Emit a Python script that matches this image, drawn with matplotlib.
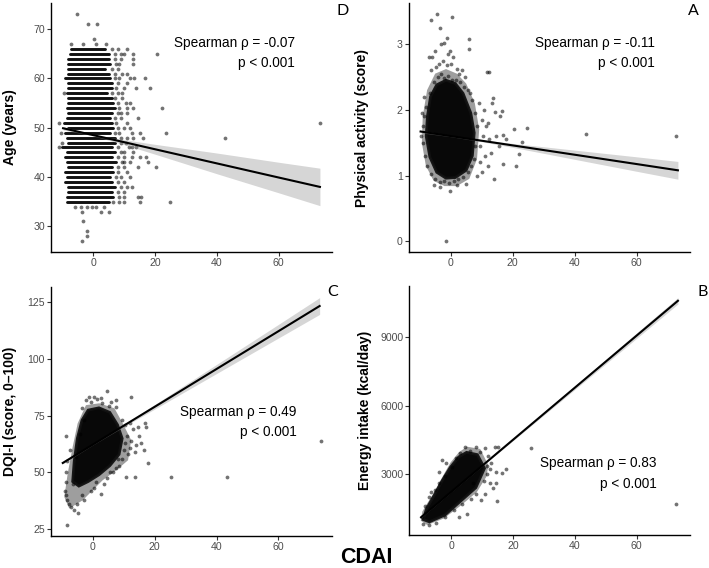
import matplotlib
matplotlib.use("Agg")
import matplotlib.pyplot as plt

plt.rcParams['font.family'] = ['Liberation Sans', 'DejaVu Sans']

# ---------------- common ----------------
x_ticks = [0, 20, 40, 60]
x_lim = (-13.6, 77.2)

# ---------------- Panel D : Age ----------------
d_row_age = [66, 65, 64, 63, 62, 61, 60, 59, 58, 57, 56, 55, 54, 53, 52, 51,
             50, 49, 48, 47, 46, 45, 44, 43, 42, 41, 40, 39, 38, 37, 36, 35]
d_row_lo = [-7, -7.5, -8, -8, -8, -8, -9, -8, -8, -8.5, -8, -8, -8.5, -8, -8.5, -9.5,
            -8, -9, -8.5, -8, -10, -8.5, -9, -8.5, -8, -9, -8.5, -9, -8, -8, -8.5, -8.5]
d_row_hi = [4, 5, 5, 5.5, 4, 5, 5.5, 6, 6, 4.5, 6, 6.5, 7, 6, 5.5, 6,
            6.5, 5.5, 7, 7, 6, 7, 6, 7.5, 6, 6.5, 5.5, 6, 7, 6, 6.5, 5]
d_pts_x = [6, 8, 11, 7, 9, 10, 13, 7, 9, 12.8, 7.5, 8.5, 12.8, 6, 8, 7, 9.5, 11,
           7, 8.5, 12, 13.3, 16.7, 8, 11, 7.5, 10, 14, 18.5, 6, 8, 9.5, -9.5, 7, 9.5,
           8, 10.5, 12, 8.5, 11, 13, 22.2, 8, 9, 11, 7, 9, 14.4, 7.5, 11, -11,
           8, 10, 12, 7, 8.5, 12.5, 15, 23.4, -10.5, 9, 11, 13, 16.1, 42.7,
           9, 10.5, -10, 8, 11.5, 12.5, 14, -11, 9, 10, 13, 8, 10, 12.5, 15, 17,
           9.5, 10, 12, 17.6, 8, 10, 14.4, 20.4, 8, 11, 7.5, 9, 12, 8, 10,
           9, 11, 12.5, 8, 10, 8.5, 10, 14.5, 15.5, 6.5, 8.5, 10, 15, 25,
           -6, -4, -2, -0.5, 1, 3.5, -3.6, 2.6, 5, -3.3, -2.1, -2.1, -3.7,
           -7.1, -3.4, 1.0, 4.2, 0.4, -1.6, 1.3, -5.3, 20.7, 73.4]
d_pts_y = [66, 66, 66, 65, 65, 65, 65, 64, 64, 64, 63, 63, 63, 62, 62, 61, 61, 61,
           60, 60, 60, 60, 60, 59, 59, 58, 58, 58, 58, 57, 57, 57, 57, 56, 56,
           55, 55, 55, 54, 54, 54, 54, 53, 53, 53, 52, 52, 52, 51, 51, 51,
           50, 50, 50, 49, 49, 49, 49, 49, 49, 48, 48, 48, 48, 48,
           47, 47, 47, 46, 46, 46, 46, 46, 45, 45, 45, 44, 44, 44, 44, 44,
           43, 43, 43, 43, 42, 42, 42, 42, 41, 41, 40, 40, 40, 39, 39,
           38, 38, 38, 37, 37, 36, 36, 36, 36, 35, 35, 35, 35, 35,
           34, 34, 34, 34, 34, 34, 33, 33, 33, 31, 29, 28, 27,
           67, 67, 67, 67, 68, 71, 71, 73, 65, 51]
d_fit_x = [-9.7, 0, 10, 20, 40, 60, 73.3]
d_fit_y = [49.9, 48.51, 47.08, 45.64, 42.77, 39.9, 38.0]
d_band_lo = [49.55, 48.36, 46.58, 44.64, 40.67, 36.8, 34.2]
d_band_hi = [50.25, 48.66, 47.58, 46.64, 44.87, 43.0, 41.8]

# ---------------- Panel A : Physical activity ----------------
a_core_x = [-7.5, -6.5, -4.5, -1.5, 1.5, 4.0, 6.5, 7.6, 7.0, 5.0, 1.5, -1.5, -4.5, -6.7, -7.9]
a_core_y = [1.9, 2.2, 2.38, 2.45, 2.4, 2.25, 1.95, 1.65, 1.3, 1.08, 0.97, 0.96, 1.05, 1.28, 1.6]
a_halo_x = [-9.0, -7.6, -5.0, -1.5, 2.0, 5.0, 7.8, 9.2, 8.5, 6.0, 2.0, -2.0, -5.5, -8.0, -9.3]
a_halo_y = [1.9, 2.3, 2.55, 2.62, 2.55, 2.4, 2.1, 1.7, 1.25, 0.95, 0.84, 0.84, 0.92, 1.15, 1.5]
a_pts_x = [-6.8, -5.5, -4.2, -3.0, -2.0, -0.8, 0.5, 1.8, 3.0, 4.3, 5.5, -7.8, -8.5, -9.0, -8.8,
           -8.3, -7.6, -6.5, -5.0, -3.5, -2.0, -0.5, 1.0, 2.5, 4.0, 5.5, 6.5, 7.5, 8.0, 8.5,
           8.0, 7.0, 6.2,
           -6.2, -4.8, -3.8, -2.5, -1.2, 0.2, 2.0, 3.5, -5.1, -7.1, -5.9, -0.3, 0.7, -3.2,
           -2.0, -1.2, 5.9, 5.8, -4.5, 0.5, -6.4, -3.4, -1.0, 2.8, 4.5,
           9, 10.7, 10.2, 11.8, 12.3, 13.6, 13.3, 16.5, 14.4, 16.0, 12.0, 10.5, 12.5, 14.5,
           16.8, 15.5, 13.0, 11.0, 9.5, 12.0, 10.0, 8.5, 13.9, 16.9, 20.3, 24.7, 23.1, 21.9,
           21.1, 18.0, 9.5, 11.5,
           -1.6, -0.2, -3.5, -5.5, 2.0, 4.8, 43.5, 72.6, -9.5, -8.7, -9.2]
a_pts_y = [2.25, 2.42, 2.5, 2.55, 2.48, 2.52, 2.46, 2.45, 2.42, 2.35, 2.3, 2.05, 1.9, 1.75, 1.5,
           1.3, 1.15, 1.02, 0.95, 0.9, 0.92, 0.88, 0.92, 0.95, 0.98, 1.05, 1.15, 1.25, 1.45, 1.75,
           1.95, 2.15, 2.25,
           2.6, 2.65, 2.7, 2.75, 2.68, 2.7, 2.62, 2.6, 2.9, 2.81, 2.81, 2.9, 2.8, 3.0,
           3.01, 3.09, 3.08, 2.92, 3.46, 3.41, 3.36, 3.24, 2.85, 2.55, 2.5,
           2.1, 2.0, 1.85, 2.58, 2.57, 2.18, 2.1, 1.98, 1.96, 1.9, 1.8, 1.6, 1.55, 1.6,
           1.62, 1.45, 1.35, 1.3, 1.2, 1.15, 1.05, 1.0, 0.95, 1.17, 1.71, 1.73, 1.51, 1.33,
           1.15, 1.55, 1.45, 1.75,
           0.0, 0.77, 0.82, 0.86, 0.85, 0.87, 1.63, 1.60, 1.6, 2.2, 1.95]
a_fit_x = [-9.7, 0, 10, 20, 40, 60, 73.3]
a_fit_y = [1.67, 1.601, 1.53, 1.459, 1.317, 1.175, 1.08]
a_band_lo = [1.65, 1.591, 1.515, 1.429, 1.247, 1.065, 0.945]
a_band_hi = [1.69, 1.611, 1.545, 1.489, 1.387, 1.285, 1.215]

# ---------------- Panel C : DQI-I ----------------
c_core_x = [-6.0, -5.0, -3.5, -1.5, 2.0, 5.5, 8.0, 9.5, 8.5, 5.5, 2.0, -1.5, -4.5, -6.5]
c_core_y = [55, 65, 73, 77.5, 78.5, 76.5, 71, 65, 58, 53, 49, 46, 44, 46]
c_halo_x = [-9.2, -8.1, -6.5, -4.9, -2.2, 2.1, 7.0, 9.7, 12.4, 11.4, 7.6, 3.2, 0, -3.2, -7.6]
c_halo_y = [39.2, 49.6, 61.3, 71.6, 79.7, 80.5, 78.3, 71.6, 64.3, 55.4, 51, 46.6, 42.2, 37.8, 34.1]
c_pts_x = [-3.5, -2.1, -1.3, 0.5, 2.7, 4.6, 6.0, 7.5, 7.5, 3.0, -0.5, 1.5, 5.2,
           12.4, 9.5, 10.5, 12.0, 13.0, 14.5, 16.8, 17.1, 11.0, 12.5, 14.0, 15.5, 16.5, 13.5,
           11.5, 10.0, 9.5, 17.9, 13.5, 10.8, 7.5, 8.0, 6.5, 12.0, 15.0, 10.5, 8.5,
           -8.7, -7.5, -8.2, -8.5, -8.8, -9.0, -8.6, -8.3, -7.8, -7.2, -6.0, -4.9, -8.2, -2.7,
           2.7, -5.0, -3.5, 0.5, -6.5, -5.5, -4.2, -2.8,
           3.5, 4.5, 1.0, -0.5, 5.5, 25.4, 43.3, 73.9]
c_pts_y = [78.5, 82, 83.5, 83.5, 83, 86, 81, 82, 79, 80.5, 81, 82.5, 79.5,
           83.1, 73, 71, 72, 69, 70, 71.6, 70.1, 66, 64, 62, 63, 60, 59,
           58, 60, 56, 54, 48, 48, 52, 56, 50, 61, 66, 63, 53,
           66.2, 60, 55, 50, 46, 42, 40, 38, 36, 35, 33.5, 32, 27, 37.8,
           40.7, 36, 40, 43, 45, 57, 67, 73,
           45, 47.5, 46, 42, 50, 48.1, 48.1, 64.0]
c_fit_x = [-9.7, 0, 10, 20, 40, 60, 73.3]
c_fit_y = [54.2, 62.29, 70.63, 78.96, 95.64, 112.3, 123.4]
c_band_lo = [53.8, 62.09, 70.13, 77.96, 93.64, 109.3, 119.7]
c_band_hi = [54.6, 62.49, 71.13, 79.96, 97.64, 115.3, 127.1]

# ---------------- Panel B : Energy intake ----------------
b_core_x = [-9.0, -8.0, -5.5, -2.9, -0.2, 2.5, 5.0, 8.5, 10.8, 8.0, 3.0, -2.0, -7.0]
b_core_y = [1000, 1450, 2050, 2700, 3300, 3750, 3950, 3850, 3250, 2400, 1800, 1200, 900]
b_halo_x = [-9.8, -9.3, -8.2, -5.5, -2.9, -0.2, 2.5, 5.1, 9.4, 12.0, 11.5, 8.3, 3.0, -2.3, -7.7]
b_halo_y = [950, 1350, 1600, 2200, 2850, 3500, 3950, 4200, 4100, 3400, 2900, 2200, 1600, 1050, 760]
b_pts_x = [4.5, 8.2, 10.8, 14.3, 15.3, 0.2, -3, -1.5, 1.5, 3, 6, 9.5, 12, 13, 12.5, 11.5,
           14.5, 17.8, 16.5, 13.5, 14.5, 14.8, 11, 9.8, 8, 6.5, 5, 2.6, -5.1, -7, -6.5, -4,
           -2, -8.5, -9.5, -9.0, -7, -5, -2, 1, 3.5, 25.8, 72.8, -3.8, 7, 10.5, 12.5, 11.5]
b_pts_y = [4200, 4200, 4130, 4200, 4200, 3320, 3615, 3500, 3700, 3900, 4000, 3950, 3800,
           3500, 3200, 3000, 3100, 3206, 3050, 2400, 2590, 1815, 2100, 1860, 2100, 1900,
           1250, 1100, 2300, 2000, 2200, 2600, 2900, 1600, 1100, 800, 750, 850, 1100, 1400,
           1700, 4128, 1683, 3100, 2600, 2700, 2600, 3350]
b_fit_x = [-9.7, 0, 10, 20, 40, 60, 73.3]
b_fit_y = [1100, 2211, 3356, 4501, 6791, 9081, 10604]
b_band_lo = [1080, 2201, 3341, 4461, 6711, 8961, 10464]
b_band_hi = [1120, 2221, 3371, 4541, 6871, 9201, 10744]

# ---------------- figure ----------------
W, H = 709, 568
fig = plt.figure(figsize=(W / 100, H / 100), dpi=100)


def add_axes(l, r, t, b):
    return fig.add_axes([l / W, 1 - b / H, (r - l) / W, (b - t) / H])


axD = add_axes(51, 332, 3, 252)
axA = add_axes(408.5, 690, 3.3, 252.3)
axC = add_axes(50.7, 331.7, 286.5, 536)
axB = add_axes(409, 690, 286, 535)

PT_COLOR = 'black'
PT_ALPHA = 0.55
PT_SIZE = 7.5


def style(ax, ylim, yticks, ylabel, ylab_x):
    ax.set_xlim(*x_lim)
    ax.set_ylim(*ylim)
    ax.set_xticks(x_ticks)
    ax.set_yticks(yticks)
    for s in ['top', 'right']:
        ax.spines[s].set_visible(False)
    for s in ['left', 'bottom']:
        ax.spines[s].set_linewidth(1.0)
        ax.spines[s].set_color('black')
    ax.tick_params(direction='out', length=2.6, width=0.8, color='#333333',
                   labelcolor='#4d4d4d', labelsize=7.6, pad=1.5)
    ax.text(ylab_x, 0.5, ylabel, rotation=90, ha='center', va='center',
            transform=ax.transAxes, fontsize=10, fontweight='bold')


def cloud(ax, hx, hy, cx, cy, px, py):
    ax.fill(hx, hy, color='black', alpha=0.38, lw=0, zorder=2)
    ax.fill(cx, cy, color='black', alpha=0.95, lw=2.0, ec='#111111', zorder=2)
    ax.scatter(px, py, s=PT_SIZE, color=PT_COLOR, alpha=PT_ALPHA, lw=0, zorder=2)


def fit(ax, fx, fy, lo, hi):
    ax.fill_between(fx, lo, hi, color='#999999', alpha=0.4, lw=0, zorder=3)
    ax.plot(fx, fy, color='black', lw=1.5, zorder=4)


def annot(ax, x, y1, y2, rho):
    ax.text(x, y1, 'Spearman \u03c1 = ' + rho, transform=ax.transAxes,
            ha='right', va='center', fontsize=9.8, color='black')
    ax.text(x, y2, 'p < 0.001', transform=ax.transAxes,
            ha='right', va='center', fontsize=9.8, color='black')


# Panel D
axD.hlines(d_row_age, d_row_lo, d_row_hi, colors='#111111', lw=2.1,
           capstyle='round', zorder=2)
axD.scatter(d_pts_x, d_pts_y, s=PT_SIZE, color=PT_COLOR, alpha=PT_ALPHA, lw=0, zorder=2)
fit(axD, d_fit_x, d_fit_y, d_band_lo, d_band_hi)
style(axD, (24.8, 75.3), [30, 40, 50, 60, 70], 'Age (years)', -0.146)
annot(axD, 0.868, 0.841, 0.760, '-0.07')

# Panel A
cloud(axA, a_halo_x, a_halo_y, a_core_x, a_core_y, a_pts_x, a_pts_y)
fit(axA, a_fit_x, a_fit_y, a_band_lo, a_band_hi)
style(axA, (-0.167, 3.62), [0, 1, 2, 3], 'Physical activity (score)', -0.165)
annot(axA, 0.876, 0.839, 0.759, '-0.11')

# Panel C
cloud(axC, c_halo_x, c_halo_y, c_core_x, c_core_y, c_pts_x, c_pts_y)
fit(axC, c_fit_x, c_fit_y, c_band_lo, c_band_hi)
style(axC, (22.0, 132.0), [25, 50, 75, 100, 125], 'DQI-I (score, 0\u2013100)', -0.145)
annot(axC, 0.875, 0.498, 0.416, '0.49')

# Panel B
cloud(axB, b_halo_x, b_halo_y, b_core_x, b_core_y, b_pts_x, b_pts_y)
fit(axB, b_fit_x, b_fit_y, b_band_lo, b_band_hi)
style(axB, (322, 11253), [3000, 6000, 9000], 'Energy intake (kcal/day)', -0.157)
annot(axB, 0.881, 0.288, 0.205, '0.83')

# panel letters
for lab, px, py in [('D', 343, 11), ('A', 693, 11), ('C', 333, 292), ('B', 703, 292)]:
    fig.text(px / W, 1 - py / H, lab, ha='center', va='center', fontsize=11.5,
             family=['Lato', 'DejaVu Sans'])

fig.text(366 / W, 1 - 557.5 / H, 'CDAI', ha='center', va='center', fontsize=15.5,
         fontweight='bold')

fig.savefig('out.png', dpi=100)
